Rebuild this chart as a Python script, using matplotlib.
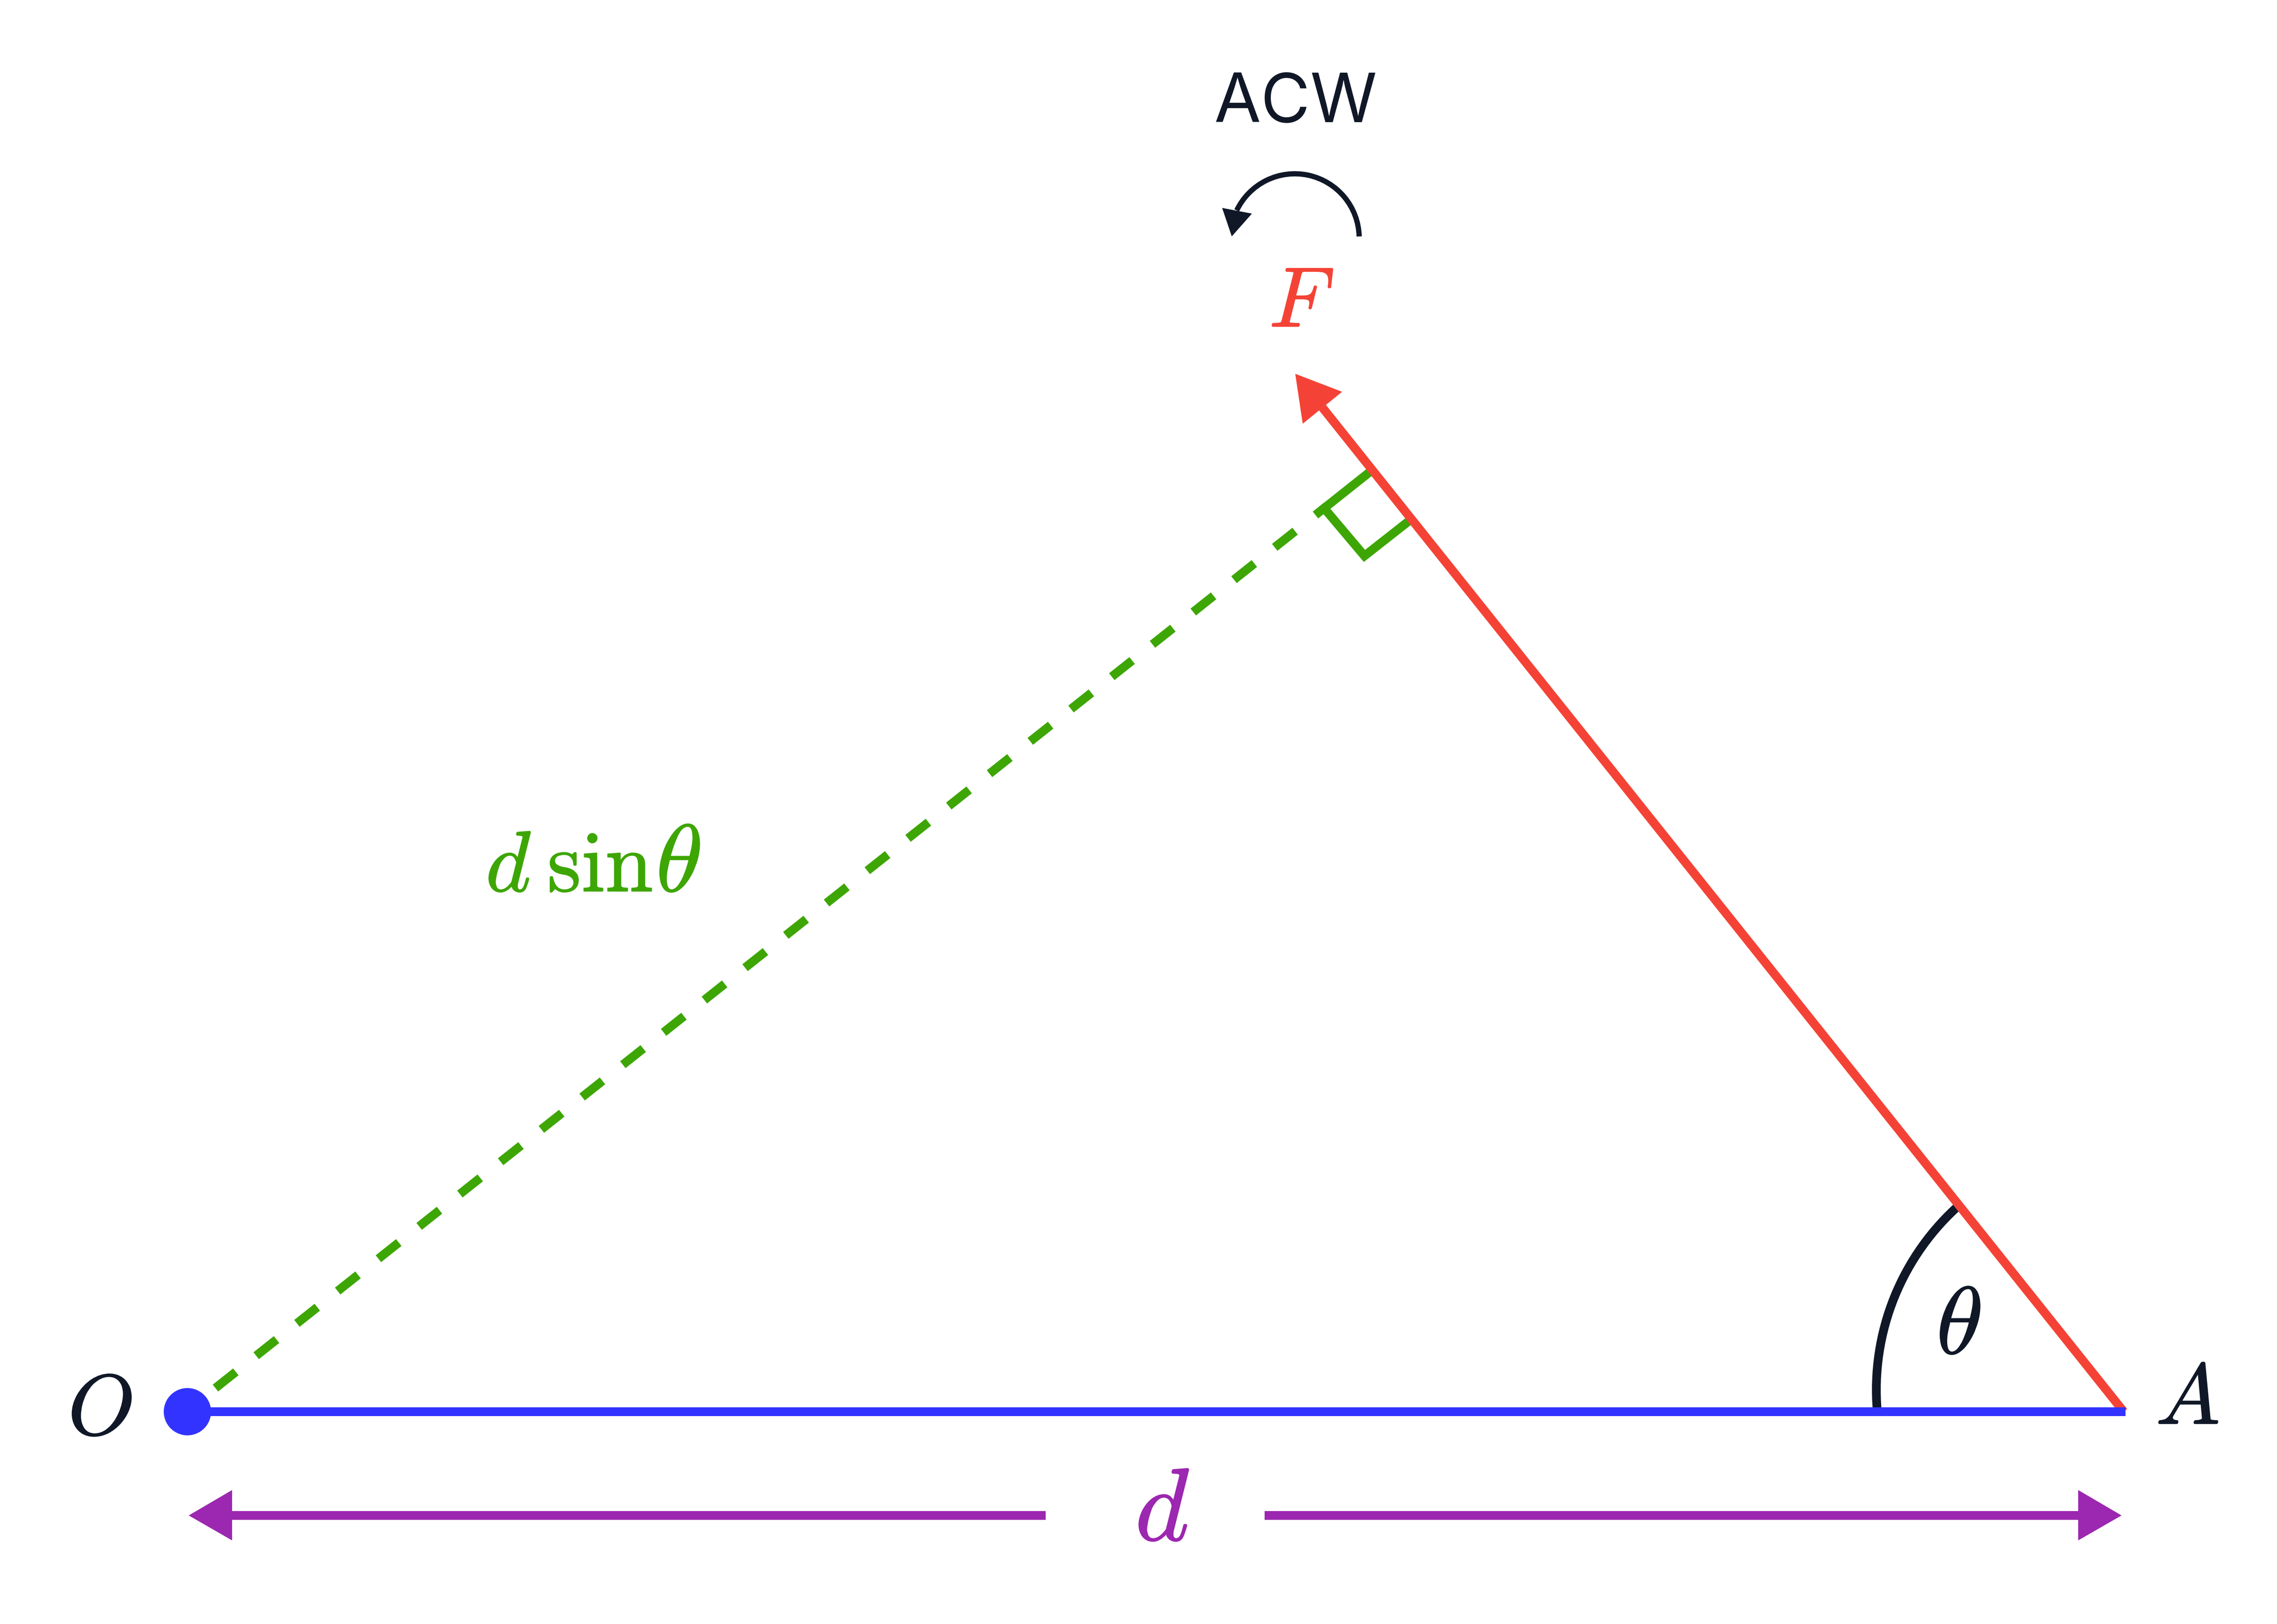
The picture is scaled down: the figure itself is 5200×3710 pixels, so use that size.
import matplotlib
matplotlib.use("Agg")
import matplotlib.pyplot as plt
import matplotlib.patheffects as pe
from matplotlib.patches import Arc, Circle

# diagram points, in image pixels (y down)
O = [428, 3225]
A = [4854, 3225]
F_base = [3020, 931]
F_head = [[2958, 854], [3065, 895], [2975, 968]]
dash_start = [492, 3171]
dash_end = [3030, 1156]
right_angle = [[3136, 1072], [3024, 1161], [3116, 1270], [3228, 1182]]
d_left = [[530, 3462], [2388, 3462]]
d_right = [[2888, 3462], [4746, 3462]]
d_left_head = [[431, 3462], [530, 3404], [530, 3519]]
d_right_head = [[4845, 3462], [4746, 3404], [4746, 3519]]
acw_head = [[2813, 540], [2791, 475], [2859, 488]]

# arcs: centre, radius, start and end angle
theta_arc = [[4850, 3175], 565, 175, 229]
acw_arc = [[2957, 544], 147, 205.5, 358.5]

DARK = "#101828"
RED = "#F44336"
BLUE = "#3333FF"
GREEN = "#3DA604"
PURPLE = "#9C27B0"

# labels: text, x, baseline y, size in px, colour
labels = [
    (r"$O$", 155, 3278, 196, DARK),
    (r"$A$", 4923, 3253, 196, DARK),
    (r"$F$", 2898, 747, 194, RED),
    (r"$\theta$", 4422, 3093, 218, DARK),
    (r"$d$", 2592, 3520, 236, PURPLE),
    (r"$d\>\mathrm{sin}$", 1109, 2037, 197, GREEN),
    (r"$\theta$", 1498, 2037, 218, GREEN),
]

DPI = 100


def px(n):
    return n * 72 / DPI


fig = plt.figure(figsize=(52, 37.1), dpi=DPI, facecolor="white")
ax = fig.add_axes([0, 0, 1, 1])
ax.set_xlim(0, 5200)
ax.set_ylim(3710, 0)
ax.axis("off")

# dashed perpendicular and right angle mark
ax.plot([dash_start[0], dash_end[0]], [dash_start[1], dash_end[1]], color=GREEN,
        lw=px(20), linestyle=(0, (2.97, 2.97)), dash_capstyle="butt", zorder=2)
ax.plot(*zip(*right_angle), color=GREEN, lw=px(20), solid_capstyle="butt",
        solid_joinstyle="miter", zorder=2)

# angle arc and rotation arc
ax.add_patch(Arc(theta_arc[0], 2 * theta_arc[1], 2 * theta_arc[1], theta1=theta_arc[2],
                 theta2=theta_arc[3], color=DARK, lw=px(20), capstyle="butt", zorder=2))
ax.add_patch(Arc(acw_arc[0], 2 * acw_arc[1], 2 * acw_arc[1], theta1=acw_arc[2],
                 theta2=acw_arc[3], color=DARK, lw=px(12), capstyle="butt", zorder=2))
ax.fill(*zip(*acw_head), color=DARK, lw=0, zorder=3)

# force line with head
ax.plot([A[0] - 4, F_base[0]], [A[1], F_base[1]], color=RED, lw=px(20),
        solid_capstyle="butt", zorder=3)
ax.fill(*zip(*F_head), color=RED, lw=0, zorder=3)

# lever arm and pivot
ax.plot([O[0], A[0]], [O[1], A[1]], color=BLUE, lw=px(20), solid_capstyle="butt", zorder=4)
ax.add_patch(Circle(O, 54, color=BLUE, lw=0, zorder=5))

# distance arrows
ax.plot(*zip(*d_left), color=PURPLE, lw=px(20), solid_capstyle="butt", zorder=3)
ax.plot(*zip(*d_right), color=PURPLE, lw=px(20), solid_capstyle="butt", zorder=3)
ax.fill(*zip(*d_left_head), color=PURPLE, lw=0, zorder=3)
ax.fill(*zip(*d_right_head), color=PURPLE, lw=0, zorder=3)

for text, x, y, size, color in labels:
    # the reference glyphs are a little heavier than plain cm
    ax.text(x, y, text, fontsize=px(size), color=color, ha="left", va="baseline",
            math_fontfamily="cm", zorder=6,
            path_effects=[pe.withStroke(linewidth=px(2), foreground=color)])

ax.text(2958, 279, "ACW", family="Inter", fontsize=px(155), color=DARK, ha="center",
        va="baseline", zorder=6)

fig.savefig("out.png", dpi=DPI, facecolor="white")
